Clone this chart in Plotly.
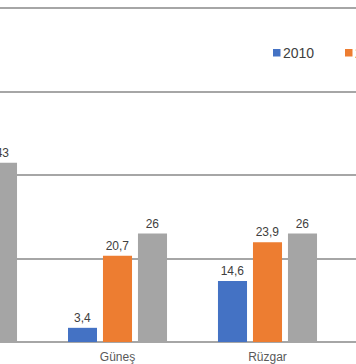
import plotly.graph_objects as go

categories = ["Hidrolik", "Güneş", "Rüzgar"]
series_names = ["2010", "2020", "2030"]
values_2010 = [None, 3.4, 14.6]
values_2020 = [None, 20.7, 23.9]
values_2030 = [43, 26, 26]
labels_2010 = ["", "3,4", "14,6"]
labels_2020 = ["", "20,7", "23,9"]
labels_2030 = ["43", "26", "26"]
colors = ["#4472C4", "#ED7D31", "#A5A5A5"]

FONT = "Liberation Sans, Arial, sans-serif"
W, H, PLOT_H = 356, 364, 342

fig = go.Figure()
for name, vals, labs, col in zip(series_names,
                                 [values_2010, values_2020, values_2030],
                                 [labels_2010, labels_2020, labels_2030],
                                 colors):
    fig.add_trace(go.Bar(
        x=categories, y=vals, name=name, marker_color=col,
        marker_line_width=0,
        text=labs, textposition="outside", cliponaxis=False,
        textfont=dict(size=12, color="#404040", family=FONT),
        showlegend=False, hoverinfo="skip",
    ))

# legend drawn as squares + text (Excel-style horizontal legend, partly off-page)
legend_left_px = [273, 345, 417]
shapes, annotations = [], []
for name, col, lx in zip(series_names, colors, legend_left_px):
    shapes.append(dict(type="rect", xref="paper", yref="paper",
                       x0=lx / W, x1=(lx + 7.5) / W,
                       y0=1 - 56.5 / PLOT_H, y1=1 - 49 / PLOT_H,
                       fillcolor=col, line_width=0, layer="above"))
    annotations.append(dict(text=name, xref="paper", yref="paper",
                            x=(lx + 8) / W, y=1 - 52.5 / PLOT_H,
                            xanchor="left", yanchor="middle", showarrow=False,
                            font=dict(size=14, color="#404040", family=FONT)))

fig.update_layout(
    width=W, height=H,
    margin=dict(l=0, r=0, t=0, b=H - PLOT_H, autoexpand=False),
    paper_bgcolor="white", plot_bgcolor="white",
    barmode="group", bargap=0.3, bargroupgap=0.17,
    font=dict(family=FONT, size=12, color="#595959"),
    showlegend=False,
    shapes=shapes, annotations=annotations,
    xaxis=dict(range=[0.2167, 2.59], showgrid=False, showline=False, zeroline=False,
               ticks="", ticklabelstandoff=6, tickfont=dict(size=12, color="#595959")),
    yaxis=dict(range=[0, 82], dtick=20, showgrid=True, gridcolor="#A6A6A6", gridwidth=1.5,
               showticklabels=False, zeroline=True, zerolinecolor="#A6A6A6", zerolinewidth=1.5,
               showline=False),
)

fig.write_html("out.html", config={"displayModeBar": False},
               post_script="document.body.style.margin='0px';document.body.style.overflow='hidden';")
